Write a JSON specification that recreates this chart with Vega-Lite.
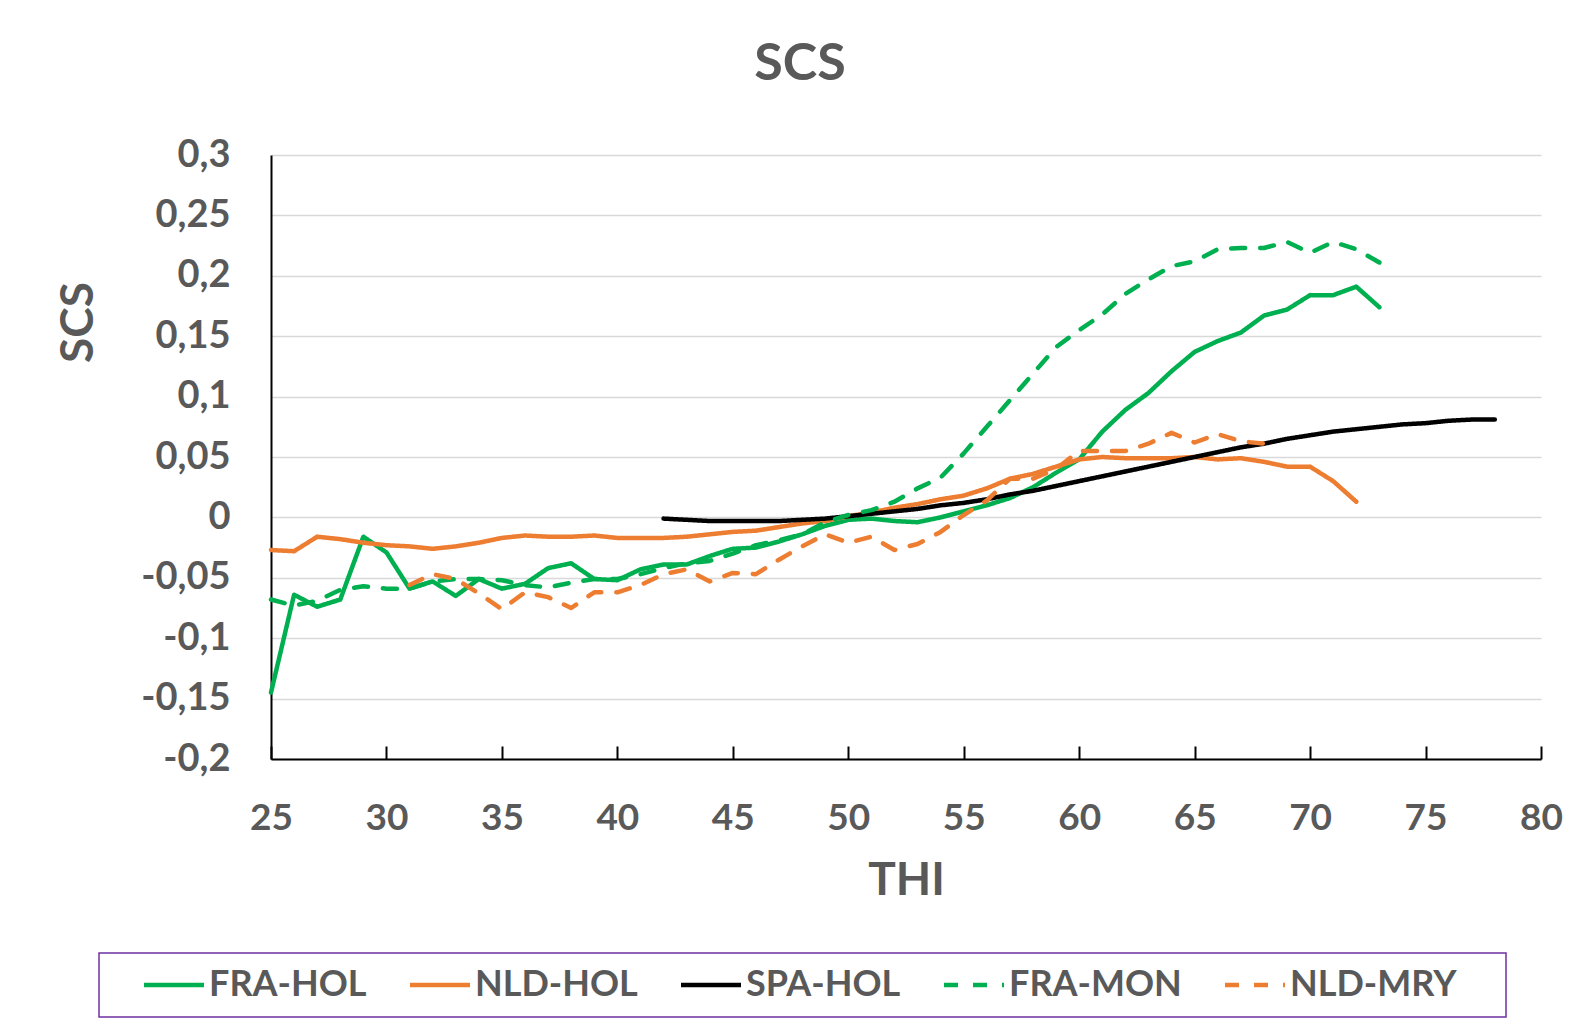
{
  "$schema": "https://vega.github.io/schema/vega-lite/v6.json",
  "autosize": {"type": "none"},
  "padding": {"left": 271, "top": 155, "right": 32, "bottom": 267},
  "width": 1270,
  "height": 604,
  "background": "white",
  "title": {"text": "SCS", "font": "Lato", "fontSize": 52, "fontWeight": "bold", "color": "#595959", "anchor": "middle", "dx": -106, "offset": 45},
  "datasets": {
    "d": [
      {"series":"FRA-HOL","THI":25,"SCS":-0.145},{"series":"FRA-HOL","THI":26,"SCS":-0.064},{"series":"FRA-HOL","THI":27,"SCS":-0.074},{"series":"FRA-HOL","THI":28,"SCS":-0.068},{"series":"FRA-HOL","THI":29,"SCS":-0.016},{"series":"FRA-HOL","THI":30,"SCS":-0.029},{"series":"FRA-HOL","THI":31,"SCS":-0.059},{"series":"FRA-HOL","THI":32,"SCS":-0.053},{"series":"FRA-HOL","THI":33,"SCS":-0.065},{"series":"FRA-HOL","THI":34,"SCS":-0.051},{"series":"FRA-HOL","THI":35,"SCS":-0.059},{"series":"FRA-HOL","THI":36,"SCS":-0.055},{"series":"FRA-HOL","THI":37,"SCS":-0.042},{"series":"FRA-HOL","THI":38,"SCS":-0.038},{"series":"FRA-HOL","THI":39,"SCS":-0.051},{"series":"FRA-HOL","THI":40,"SCS":-0.052},{"series":"FRA-HOL","THI":41,"SCS":-0.043},{"series":"FRA-HOL","THI":42,"SCS":-0.039},{"series":"FRA-HOL","THI":43,"SCS":-0.039},{"series":"FRA-HOL","THI":44,"SCS":-0.032},{"series":"FRA-HOL","THI":45,"SCS":-0.026},{"series":"FRA-HOL","THI":46,"SCS":-0.025},{"series":"FRA-HOL","THI":47,"SCS":-0.02},{"series":"FRA-HOL","THI":48,"SCS":-0.014},{"series":"FRA-HOL","THI":49,"SCS":-0.007},{"series":"FRA-HOL","THI":50,"SCS":-0.002},{"series":"FRA-HOL","THI":51,"SCS":-0.001},{"series":"FRA-HOL","THI":52,"SCS":-0.003},{"series":"FRA-HOL","THI":53,"SCS":-0.004},{"series":"FRA-HOL","THI":54,"SCS":0.0},{"series":"FRA-HOL","THI":55,"SCS":0.005},{"series":"FRA-HOL","THI":56,"SCS":0.01},{"series":"FRA-HOL","THI":57,"SCS":0.016},{"series":"FRA-HOL","THI":58,"SCS":0.025},{"series":"FRA-HOL","THI":59,"SCS":0.037},{"series":"FRA-HOL","THI":60,"SCS":0.048},{"series":"FRA-HOL","THI":61,"SCS":0.071},{"series":"FRA-HOL","THI":62,"SCS":0.089},{"series":"FRA-HOL","THI":63,"SCS":0.103},{"series":"FRA-HOL","THI":64,"SCS":0.121},{"series":"FRA-HOL","THI":65,"SCS":0.137},{"series":"FRA-HOL","THI":66,"SCS":0.146},{"series":"FRA-HOL","THI":67,"SCS":0.153},{"series":"FRA-HOL","THI":68,"SCS":0.167},{"series":"FRA-HOL","THI":69,"SCS":0.172},{"series":"FRA-HOL","THI":70,"SCS":0.184},{"series":"FRA-HOL","THI":71,"SCS":0.184},{"series":"FRA-HOL","THI":72,"SCS":0.191},{"series":"FRA-HOL","THI":73,"SCS":0.174},
      {"series":"NLD-HOL","THI":25,"SCS":-0.027},{"series":"NLD-HOL","THI":26,"SCS":-0.028},{"series":"NLD-HOL","THI":27,"SCS":-0.016},{"series":"NLD-HOL","THI":28,"SCS":-0.018},{"series":"NLD-HOL","THI":29,"SCS":-0.021},{"series":"NLD-HOL","THI":30,"SCS":-0.023},{"series":"NLD-HOL","THI":31,"SCS":-0.024},{"series":"NLD-HOL","THI":32,"SCS":-0.026},{"series":"NLD-HOL","THI":33,"SCS":-0.024},{"series":"NLD-HOL","THI":34,"SCS":-0.021},{"series":"NLD-HOL","THI":35,"SCS":-0.017},{"series":"NLD-HOL","THI":36,"SCS":-0.015},{"series":"NLD-HOL","THI":37,"SCS":-0.016},{"series":"NLD-HOL","THI":38,"SCS":-0.016},{"series":"NLD-HOL","THI":39,"SCS":-0.015},{"series":"NLD-HOL","THI":40,"SCS":-0.017},{"series":"NLD-HOL","THI":41,"SCS":-0.017},{"series":"NLD-HOL","THI":42,"SCS":-0.017},{"series":"NLD-HOL","THI":43,"SCS":-0.016},{"series":"NLD-HOL","THI":44,"SCS":-0.014},{"series":"NLD-HOL","THI":45,"SCS":-0.012},{"series":"NLD-HOL","THI":46,"SCS":-0.011},{"series":"NLD-HOL","THI":47,"SCS":-0.008},{"series":"NLD-HOL","THI":48,"SCS":-0.005},{"series":"NLD-HOL","THI":49,"SCS":-0.003},{"series":"NLD-HOL","THI":50,"SCS":0.001},{"series":"NLD-HOL","THI":51,"SCS":0.004},{"series":"NLD-HOL","THI":52,"SCS":0.008},{"series":"NLD-HOL","THI":53,"SCS":0.011},{"series":"NLD-HOL","THI":54,"SCS":0.015},{"series":"NLD-HOL","THI":55,"SCS":0.018},{"series":"NLD-HOL","THI":56,"SCS":0.024},{"series":"NLD-HOL","THI":57,"SCS":0.032},{"series":"NLD-HOL","THI":58,"SCS":0.036},{"series":"NLD-HOL","THI":59,"SCS":0.042},{"series":"NLD-HOL","THI":60,"SCS":0.048},{"series":"NLD-HOL","THI":61,"SCS":0.05},{"series":"NLD-HOL","THI":62,"SCS":0.049},{"series":"NLD-HOL","THI":63,"SCS":0.049},{"series":"NLD-HOL","THI":64,"SCS":0.049},{"series":"NLD-HOL","THI":65,"SCS":0.05},{"series":"NLD-HOL","THI":66,"SCS":0.048},{"series":"NLD-HOL","THI":67,"SCS":0.049},{"series":"NLD-HOL","THI":68,"SCS":0.046},{"series":"NLD-HOL","THI":69,"SCS":0.042},{"series":"NLD-HOL","THI":70,"SCS":0.042},{"series":"NLD-HOL","THI":71,"SCS":0.03},{"series":"NLD-HOL","THI":72,"SCS":0.013},
      {"series":"SPA-HOL","THI":42,"SCS":-0.001},{"series":"SPA-HOL","THI":43,"SCS":-0.002},{"series":"SPA-HOL","THI":44,"SCS":-0.003},{"series":"SPA-HOL","THI":45,"SCS":-0.003},{"series":"SPA-HOL","THI":46,"SCS":-0.003},{"series":"SPA-HOL","THI":47,"SCS":-0.003},{"series":"SPA-HOL","THI":48,"SCS":-0.002},{"series":"SPA-HOL","THI":49,"SCS":-0.001},{"series":"SPA-HOL","THI":50,"SCS":0.001},{"series":"SPA-HOL","THI":51,"SCS":0.003},{"series":"SPA-HOL","THI":52,"SCS":0.005},{"series":"SPA-HOL","THI":53,"SCS":0.007},{"series":"SPA-HOL","THI":54,"SCS":0.01},{"series":"SPA-HOL","THI":55,"SCS":0.012},{"series":"SPA-HOL","THI":56,"SCS":0.015},{"series":"SPA-HOL","THI":57,"SCS":0.019},{"series":"SPA-HOL","THI":58,"SCS":0.022},{"series":"SPA-HOL","THI":59,"SCS":0.026},{"series":"SPA-HOL","THI":60,"SCS":0.03},{"series":"SPA-HOL","THI":61,"SCS":0.034},{"series":"SPA-HOL","THI":62,"SCS":0.038},{"series":"SPA-HOL","THI":63,"SCS":0.042},{"series":"SPA-HOL","THI":64,"SCS":0.046},{"series":"SPA-HOL","THI":65,"SCS":0.05},{"series":"SPA-HOL","THI":66,"SCS":0.054},{"series":"SPA-HOL","THI":67,"SCS":0.058},{"series":"SPA-HOL","THI":68,"SCS":0.061},{"series":"SPA-HOL","THI":69,"SCS":0.065},{"series":"SPA-HOL","THI":70,"SCS":0.068},{"series":"SPA-HOL","THI":71,"SCS":0.071},{"series":"SPA-HOL","THI":72,"SCS":0.073},{"series":"SPA-HOL","THI":73,"SCS":0.075},{"series":"SPA-HOL","THI":74,"SCS":0.077},{"series":"SPA-HOL","THI":75,"SCS":0.078},{"series":"SPA-HOL","THI":76,"SCS":0.08},{"series":"SPA-HOL","THI":77,"SCS":0.081},{"series":"SPA-HOL","THI":78,"SCS":0.081},
      {"series":"FRA-MON","THI":25,"SCS":-0.068},{"series":"FRA-MON","THI":26,"SCS":-0.073},{"series":"FRA-MON","THI":27,"SCS":-0.069},{"series":"FRA-MON","THI":28,"SCS":-0.06},{"series":"FRA-MON","THI":29,"SCS":-0.057},{"series":"FRA-MON","THI":30,"SCS":-0.059},{"series":"FRA-MON","THI":31,"SCS":-0.059},{"series":"FRA-MON","THI":32,"SCS":-0.053},{"series":"FRA-MON","THI":33,"SCS":-0.051},{"series":"FRA-MON","THI":34,"SCS":-0.051},{"series":"FRA-MON","THI":35,"SCS":-0.052},{"series":"FRA-MON","THI":36,"SCS":-0.056},{"series":"FRA-MON","THI":37,"SCS":-0.058},{"series":"FRA-MON","THI":38,"SCS":-0.054},{"series":"FRA-MON","THI":39,"SCS":-0.051},{"series":"FRA-MON","THI":40,"SCS":-0.051},{"series":"FRA-MON","THI":41,"SCS":-0.047},{"series":"FRA-MON","THI":42,"SCS":-0.042},{"series":"FRA-MON","THI":43,"SCS":-0.038},{"series":"FRA-MON","THI":44,"SCS":-0.036},{"series":"FRA-MON","THI":45,"SCS":-0.03},{"series":"FRA-MON","THI":46,"SCS":-0.023},{"series":"FRA-MON","THI":47,"SCS":-0.019},{"series":"FRA-MON","THI":48,"SCS":-0.014},{"series":"FRA-MON","THI":49,"SCS":-0.004},{"series":"FRA-MON","THI":50,"SCS":0.002},{"series":"FRA-MON","THI":51,"SCS":0.006},{"series":"FRA-MON","THI":52,"SCS":0.013},{"series":"FRA-MON","THI":53,"SCS":0.024},{"series":"FRA-MON","THI":54,"SCS":0.033},{"series":"FRA-MON","THI":55,"SCS":0.053},{"series":"FRA-MON","THI":56,"SCS":0.075},{"series":"FRA-MON","THI":57,"SCS":0.097},{"series":"FRA-MON","THI":58,"SCS":0.119},{"series":"FRA-MON","THI":59,"SCS":0.141},{"series":"FRA-MON","THI":60,"SCS":0.155},{"series":"FRA-MON","THI":61,"SCS":0.168},{"series":"FRA-MON","THI":62,"SCS":0.185},{"series":"FRA-MON","THI":63,"SCS":0.197},{"series":"FRA-MON","THI":64,"SCS":0.208},{"series":"FRA-MON","THI":65,"SCS":0.212},{"series":"FRA-MON","THI":66,"SCS":0.222},{"series":"FRA-MON","THI":67,"SCS":0.223},{"series":"FRA-MON","THI":68,"SCS":0.223},{"series":"FRA-MON","THI":69,"SCS":0.228},{"series":"FRA-MON","THI":70,"SCS":0.219},{"series":"FRA-MON","THI":71,"SCS":0.228},{"series":"FRA-MON","THI":72,"SCS":0.222},{"series":"FRA-MON","THI":73,"SCS":0.211},
      {"series":"NLD-MRY","THI":31,"SCS":-0.056},{"series":"NLD-MRY","THI":32,"SCS":-0.047},{"series":"NLD-MRY","THI":33,"SCS":-0.051},{"series":"NLD-MRY","THI":34,"SCS":-0.063},{"series":"NLD-MRY","THI":35,"SCS":-0.076},{"series":"NLD-MRY","THI":36,"SCS":-0.062},{"series":"NLD-MRY","THI":37,"SCS":-0.066},{"series":"NLD-MRY","THI":38,"SCS":-0.075},{"series":"NLD-MRY","THI":39,"SCS":-0.062},{"series":"NLD-MRY","THI":40,"SCS":-0.062},{"series":"NLD-MRY","THI":41,"SCS":-0.056},{"series":"NLD-MRY","THI":42,"SCS":-0.047},{"series":"NLD-MRY","THI":43,"SCS":-0.043},{"series":"NLD-MRY","THI":44,"SCS":-0.053},{"series":"NLD-MRY","THI":45,"SCS":-0.046},{"series":"NLD-MRY","THI":46,"SCS":-0.047},{"series":"NLD-MRY","THI":47,"SCS":-0.035},{"series":"NLD-MRY","THI":48,"SCS":-0.024},{"series":"NLD-MRY","THI":49,"SCS":-0.014},{"series":"NLD-MRY","THI":50,"SCS":-0.021},{"series":"NLD-MRY","THI":51,"SCS":-0.016},{"series":"NLD-MRY","THI":52,"SCS":-0.027},{"series":"NLD-MRY","THI":53,"SCS":-0.022},{"series":"NLD-MRY","THI":54,"SCS":-0.012},{"series":"NLD-MRY","THI":55,"SCS":0.002},{"series":"NLD-MRY","THI":56,"SCS":0.014},{"series":"NLD-MRY","THI":57,"SCS":0.032},{"series":"NLD-MRY","THI":58,"SCS":0.032},{"series":"NLD-MRY","THI":59,"SCS":0.04},{"series":"NLD-MRY","THI":60,"SCS":0.055},{"series":"NLD-MRY","THI":61,"SCS":0.055},{"series":"NLD-MRY","THI":62,"SCS":0.055},{"series":"NLD-MRY","THI":63,"SCS":0.061},{"series":"NLD-MRY","THI":64,"SCS":0.07},{"series":"NLD-MRY","THI":65,"SCS":0.062},{"series":"NLD-MRY","THI":66,"SCS":0.069},{"series":"NLD-MRY","THI":67,"SCS":0.063},{"series":"NLD-MRY","THI":68,"SCS":0.061}
    ]
  },
  "data": {"name": "d"},
  "mark": {"type": "line", "strokeCap": "round", "strokeJoin": "round", "clip": false},
  "encoding": {
    "x": {
      "field": "THI", "type": "quantitative",
      "scale": {"domain": [25, 80], "nice": false, "zero": false},
      "axis": {
        "values": [25, 30, 35, 40, 45, 50, 55, 60, 65, 70, 75, 80],
        "grid": false,
        "domainColor": "#000000", "domainWidth": 2,
        "ticks": true, "tickSize": -13, "tickColor": "#000000", "tickWidth": 2,
        "labelFont": "Lato", "labelFontSize": 37, "labelFontWeight": "bold", "labelColor": "#595959",
        "labelPadding": 54, "labelFlush": false, "labelOverlap": false,
        "title": "THI", "titleFont": "Lato", "titleFontSize": 46, "titleFontWeight": "bold", "titleColor": "#595959",
        "titleX": 635, "titleY": 121, "titleAlign": "center", "titleBaseline": "middle"
      }
    },
    "y": {
      "field": "SCS", "type": "quantitative",
      "scale": {"domain": [-0.2, 0.3], "nice": false, "zero": false},
      "axis": {
        "values": [-0.2, -0.15, -0.1, -0.05, 0, 0.05, 0.1, 0.15, 0.2, 0.25, 0.3],
        "labelExpr": "replace(toString(datum.value), '.', ',')",
        "grid": true, "gridColor": "#D9D9D9", "gridWidth": 1.5,
        "domainColor": "#000000", "domainWidth": 2,
        "ticks": false,
        "labelFont": "Lato", "labelFontSize": 38, "labelFontWeight": "bold", "labelColor": "#595959",
        "labelPadding": 41, "labelFlush": false, "labelOverlap": false,
        "title": "SCS", "titleFont": "Lato", "titleFontSize": 46, "titleFontWeight": "bold", "titleColor": "#595959",
        "titleAngle": -90, "titleX": -193, "titleY": 167, "titleAlign": "center", "titleBaseline": "middle"
      }
    },
    "color": {
      "field": "series", "type": "nominal",
      "scale": {"domain": ["FRA-HOL", "NLD-HOL", "SPA-HOL", "FRA-MON", "NLD-MRY"], "range": ["#00B050", "#ED7D31", "#000000", "#00B050", "#ED7D31"]},
      "legend": {
        "orient": "none", "legendX": -172, "legendY": 798, "direction": "horizontal", "columns": 5,
        "title": " ", "titleOrient": "left", "titleFontSize": 10, "titlePadding": 43,
        "symbolType": "M-2,0H2", "symbolSize": 900, "symbolStrokeWidth": 4,
        "labelFont": "Lato", "labelFontSize": 36, "labelFontWeight": "bold", "labelColor": "#595959", "labelOffset": 17, "labelLimit": 400,
        "labelExpr": "datum.value == 'NLD-MRY' ? 'NLD-MRY \u2800' : datum.label",
        "columnPadding": 34, "padding": 14,
        "strokeColor": "#7030A0", "fillColor": "white"
      }
    },
    "strokeDash": {
      "field": "series", "type": "nominal",
      "scale": {"domain": ["FRA-HOL", "NLD-HOL", "SPA-HOL", "FRA-MON", "NLD-MRY"], "range": [[1, 0], [1, 0], [1, 0], [14, 15], [14, 15]]}
    },
    "strokeWidth": {
      "field": "series", "type": "nominal",
      "scale": {"domain": ["FRA-HOL", "NLD-HOL", "SPA-HOL", "FRA-MON", "NLD-MRY"], "range": [4.5, 4.5, 3, 4.5, 4.5]}
    }
  },
  "config": {
    "view": {"stroke": null},
    "legend": {"strokeWidth": 1.5}
  }
}
